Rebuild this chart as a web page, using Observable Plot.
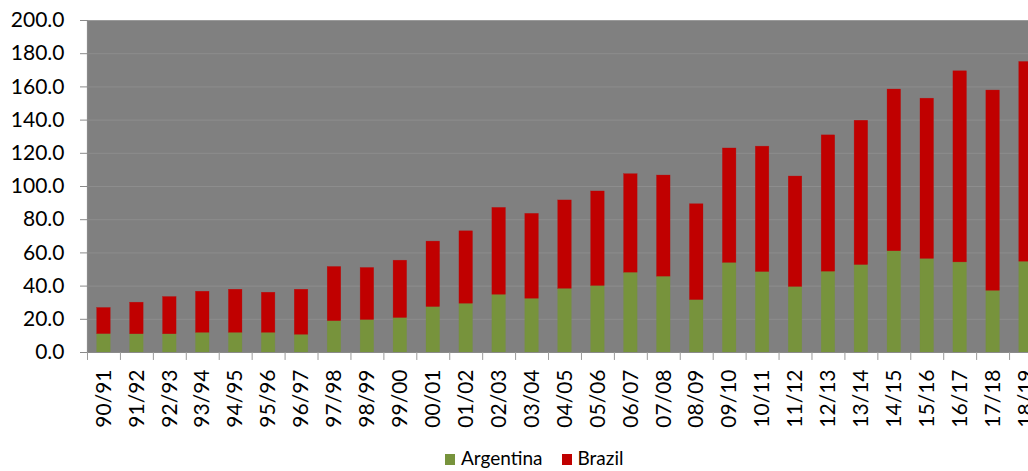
<!DOCTYPE html>
<html>
<head>
<meta charset="utf-8">
<script src="https://cdn.jsdelivr.net/npm/d3@7"></script>
<script src="https://cdn.jsdelivr.net/npm/@observablehq/plot@0.6"></script>
<style>
  html, body { margin: 0; padding: 0; background: #fff; overflow: hidden; width: 1028px; height: 471px; }
  #wrap { position: relative; width: 1028px; height: 471px; overflow: hidden; }
  #wrap svg { max-width: none !important; width: 1050px !important; height: 440px !important; }
  #legend { position: absolute; top: 448px; left: 445px; display: flex; align-items: center; font-family: Lato, "Open Sans", sans-serif; font-size: 19px; line-height: 20px; color: #000; white-space: nowrap; }
  #legend .item { display: flex; align-items: center; }
  #legend .sw { width: 10px; height: 11px; margin-right: 6px; margin-top: 3px; }
</style>
</head>
<body>
<div id="wrap"></div>
<script>
const years = ["90/91","91/92","92/93","93/94","94/95","95/96","96/97","97/98","98/99","99/00",
  "00/01","01/02","02/03","03/04","04/05","05/06","06/07","07/08","08/09","09/10",
  "10/11","11/12","12/13","13/14","14/15","15/16","16/17","17/18","18/19"];
const argentina = [11.1, 11.0, 11.0, 11.9, 11.9, 11.9, 10.7, 18.9, 19.6, 20.8,
  27.4, 29.4, 34.8, 32.4, 38.4, 40.1, 48.1, 45.7, 31.6, 54.0,
  48.5, 39.5, 48.7, 52.7, 61.0, 56.4, 54.3, 37.2, 54.7];
const brazil = [15.7, 19.0, 22.4, 24.7, 25.9, 24.1, 27.1, 32.6, 31.3, 34.5,
  39.4, 43.6, 52.3, 51.1, 53.2, 56.9, 59.3, 60.9, 57.7, 68.9,
  75.5, 66.5, 82.1, 86.9, 97.4, 96.5, 115.1, 120.6, 120.3];
const series = ["Argentina", "Brazil"];
const colors = ["#77933C", "#C00000"];
const yTicks = [0, 20, 40, 60, 80, 100, 120, 140, 160, 180, 200];

const rows = [];
series.forEach((s, si) => {
  const vals = si === 0 ? argentina : brazil;
  years.forEach((y, i) => rows.push({year: y, country: s, value: vals[i]}));
});

const W = 1050, ML = 87, MR = 8;
const step = (W - ML - MR) / years.length;
const fontFam = "Lato, 'Open Sans', sans-serif";

const chart = Plot.plot({
  width: W,
  height: 440,
  marginLeft: ML,
  marginRight: MR,
  marginTop: 20,
  marginBottom: 88,
  style: {fontFamily: fontFam, background: "transparent"},
  x: {domain: years, paddingInner: 0.59, paddingOuter: 0.295, round: false},
  y: {domain: [0, 200], label: null},
  color: {domain: series, range: colors},
  marks: [
    Plot.frame({fill: "#808080", stroke: null}),
    Plot.ruleY(yTicks.filter(d => d > 0 && d < 200), {stroke: "#8d8d8d", strokeWidth: 1}),
    Plot.ruleY([200], {stroke: "#9a9a9a", strokeWidth: 1}),
    Plot.barY(rows, {x: "year", y: "value", fill: "country", stroke: "country", strokeWidth: 0.5, strokeOpacity: 0.6}),
    Plot.ruleY([0], {stroke: "#8a8a8a", strokeWidth: 1.2}),
    Plot.ruleX(years.slice(0, 1), {x: d => d, y1: 0, y2: 200, dx: -step / 2, stroke: "#8a8a8a", strokeWidth: 1.2}),
    Plot.ruleX(years, {x: d => d, y1: 0, y2: -4.8, dx: -step / 2, stroke: "#9a9a9a", strokeWidth: 1}),
    Plot.axisY({ticks: yTicks, tickSize: 7, tickFormat: () => "", stroke: "#8a8a8a", label: null}),
    Plot.axisY({ticks: yTicks, tickSize: 0, tickPadding: 23, tickFormat: d3.format(".1f"), fontSize: 21, fill: "#000", label: null}),
    Plot.axisX({tickSize: 0, tickPadding: 17, tickRotate: -90, fontSize: 21, fill: "#000", label: null})
  ]
});
chart.style.maxWidth = "none";
document.getElementById("wrap").appendChild(chart);

const legend = document.createElement("div");
legend.id = "legend";
series.forEach((s, i) => {
  const item = document.createElement("div");
  item.className = "item";
  const sw = document.createElement("div");
  sw.className = "sw";
  sw.style.background = colors[i];
  const t = document.createElement("span");
  t.textContent = s;
  item.appendChild(sw);
  item.appendChild(t);
  item.style.marginRight = i === 0 ? "19px" : "0";
  legend.appendChild(item);
});
document.getElementById("wrap").appendChild(legend);
</script>
</body>
</html>
